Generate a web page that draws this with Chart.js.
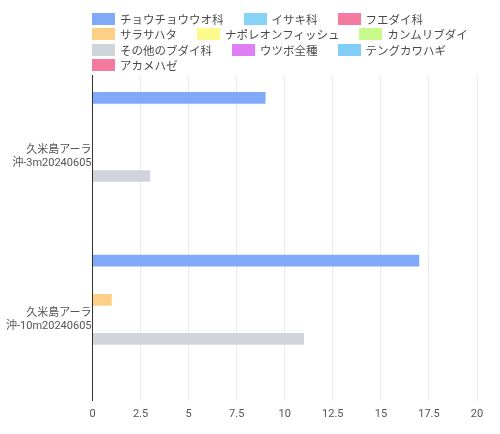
<!DOCTYPE html>
<html>
<head>
<meta charset="utf-8">
<script src="https://cdn.jsdelivr.net/npm/chart.js@4/dist/chart.umd.min.js"></script>
<style>
  html, body { margin: 0; padding: 0; background: #fff; }
  #wrap { position: relative; width: 500px; height: 434px; }
  #legend {
    position: absolute; left: 92px; top: 11px; width: 400px;
    display: flex; flex-wrap: wrap; column-gap: 20px;
    font-family: Roboto, "Noto Sans CJK JP", sans-serif; font-size: 11.5px; color: #4a4a4a;
  }
  .item { display: flex; align-items: center; height: 15.5px; white-space: nowrap; }
  .box { width: 23px; height: 12px; margin-right: 5px; }
</style>
</head>
<body>
<div id="wrap">
  <canvas id="chart" width="500" height="434"></canvas>
  <div id="legend"></div>
</div>
<script>
  // Categories (two-line labels)
  const categories = [
    ['久米島アーラ', '沖-3m20240605'],
    ['久米島アーラ', '沖-10m20240605']
  ];

  // Series names and colours
  const seriesNames = [
    'チョウチョウウオ科', 'イサキ科', 'フエダイ科', 'サラサハタ', 'ナポレオンフィッシュ',
    'カンムリブダイ', 'その他のブダイ科', 'ウツボ全種', 'テングカワハギ', 'アカメハゼ'
  ];
  const seriesColors = [
    '#80aaf8', '#88d4f8', '#f47aa0', '#fdd088', '#fdfb8c',
    '#c8fb8c', '#cfd5db', '#e07ef5', '#80cef8', '#f47aa0'
  ];

  // Counts per series: [ -3m, -10m ]
  const chouchouuo = [9, 17];
  const isaki = [0, 0];
  const fuedai = [0, 0];
  const sarasahata = [0, 1];
  const napoleon = [0, 0];
  const kanmuri = [0, 0];
  const sonotaBudai = [3, 11];
  const utsubo = [0, 0];
  const tengukawahagi = [0, 0];
  const akamehaze = [0, 0];

  const seriesValues = [chouchouuo, isaki, fuedai, sarasahata, napoleon,
    kanmuri, sonotaBudai, utsubo, tengukawahagi, akamehaze];

  // X axis ticks
  const xTicks = [0, 2.5, 5, 7.5, 10, 12.5, 15, 17.5, 20];

  const font = { family: 'Roboto, "Noto Sans CJK JP", sans-serif', size: 11 };

  const chart = new Chart(document.getElementById('chart'), {
    type: 'bar',
    data: {
      labels: categories,
      datasets: seriesNames.map((name, i) => ({
        label: name,
        data: seriesValues[i],
        backgroundColor: seriesColors[i],
        borderWidth: 0
      }))
    },
    options: {
      indexAxis: 'y',
      responsive: false,
      animation: false,
      layout: { padding: { top: 75, right: 23, bottom: 6, left: 5 } },
      plugins: {
        legend: { display: false },
        tooltip: { enabled: false }
      },
      scales: {
        x: {
          min: xTicks[0],
          max: xTicks[xTicks.length - 1],
          ticks: { stepSize: 2.5, color: '#555', font: font, padding: 7 },
          grid: { color: '#ebebeb', drawTicks: false },
          border: { display: false }
        },
        y: {
          ticks: { color: '#555', font: font, padding: 1 },
          grid: { display: false, drawTicks: false },
          border: { color: '#333', width: 1 }
        }
      }
    }
  });

  // HTML legend built from the chart's datasets
  const legend = document.getElementById('legend');
  chart.data.datasets.forEach(ds => {
    const item = document.createElement('div');
    item.className = 'item';
    const box = document.createElement('span');
    box.className = 'box';
    box.style.background = ds.backgroundColor;
    const text = document.createElement('span');
    text.textContent = ds.label;
    item.appendChild(box);
    item.appendChild(text);
    legend.appendChild(item);
  });
</script>
</body>
</html>
